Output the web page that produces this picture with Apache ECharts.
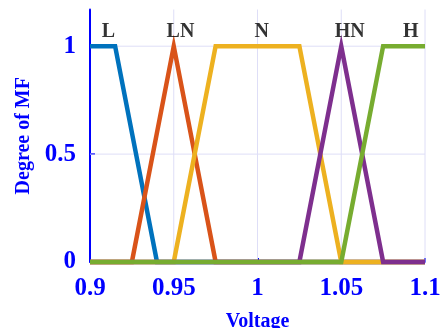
<!DOCTYPE html>
<html>
<head>
<meta charset="utf-8">
<script src="https://cdn.jsdelivr.net/npm/echarts@6/dist/echarts.min.js"></script>
<style>
  html, body { margin: 0; padding: 0; background: #fff; }
  #chart { width: 441px; height: 328px; }
</style>
</head>
<body>
<div id="chart"></div>
<script>
// Membership functions of the voltage input (breakpoints, degree of membership)
const mfNames = ['L', 'LN', 'N', 'HN', 'H'];
const mfL  = [[0.9, 1], [0.915, 1], [0.94, 0], [1.1, 0]];
const mfLN = [[0.9, 0], [0.925, 0], [0.95, 1], [0.975, 0], [1.1, 0]];
const mfN  = [[0.9, 0], [0.95, 0], [0.975, 1], [1.025, 1], [1.05, 0], [1.1, 0]];
const mfHN = [[0.9, 0], [1.025, 0], [1.05, 1], [1.075, 0], [1.1, 0]];
const mfH  = [[0.9, 0], [1.05, 0], [1.075, 1], [1.1, 1]];

// Where each name is written above its function
const nameX = [0.911, 0.954, 1.0025, 1.055, 1.0915];
const nameY = 1.066;

// Axis ticks
const xTicks = [0.9, 0.95, 1, 1.05, 1.1];
const yTicks = [0, 0.5, 1];
const xRange = [0.9, 1.1];
const yRange = [0, 1.17];

const colors = ['#0072BD', '#D95319', '#EDB120', '#7E2F8E', '#77AC30'];
const blue = '#0000FF';
const gridColor = '#DEDEF7';
const serif = '"Liberation Serif", "Times New Roman", serif';

const curves = [mfL, mfLN, mfN, mfHN, mfH];

// Light grid lines at the tick positions only, drawn beneath the curves
const series = [];
xTicks.slice(1).forEach(v => series.push({
  type: 'line', silent: true, symbol: 'none', z: 1,
  data: [[v, yRange[0]], [v, yRange[1]]],
  lineStyle: { color: gridColor, width: 1 }
}));
yTicks.slice(1).forEach(v => series.push({
  type: 'line', silent: true, symbol: 'none', z: 1,
  data: [[xRange[0], v], [xRange[1], v]],
  lineStyle: { color: gridColor, width: 1 }
}));

curves.forEach((d, i) => series.push({
  type: 'line',
  name: mfNames[i],
  data: d,
  symbol: 'none',
  clip: false,
  lineStyle: { color: colors[i], width: 4.5, join: 'miter' },
  z: 3 + i
}));

// Function names
series.push({
  type: 'scatter',
  symbolSize: 0,
  z: 10,
  data: mfNames.map((n, i) => ({ name: n, value: [nameX[i], nameY] })),
  label: {
    show: true,
    position: 'inside',
    formatter: p => p.name,
    color: '#000',
    fontFamily: serif,
    fontWeight: 'bold',
    fontSize: 20
  }
});

const chart = echarts.init(document.getElementById('chart'), null, { renderer: 'canvas' });
chart.setOption({
  animation: false,
  backgroundColor: '#fff',
  grid: { left: 90, right: 16, top: 9.5, bottom: 66, containLabel: false, outerBoundsMode: 'none' },
  xAxis: {
    type: 'value',
    min: xRange[0],
    max: xRange[1],
    interval: 0.05,
    name: 'Voltage',
    nameLocation: 'middle',
    nameGap: 50,
    nameTextStyle: { color: blue, fontFamily: serif, fontWeight: 'bold', fontSize: 20 },
    axisLine: { show: true, onZero: false, lineStyle: { color: blue, width: 1 } },
    axisTick: { show: true, inside: true, length: 4, lineStyle: { color: blue, width: 2 } },
    axisLabel: {
      color: blue, fontFamily: serif, fontWeight: 'bold', fontSize: 25, margin: 14,
      formatter: v => String(+v.toFixed(2))
    },
    splitLine: { show: false }
  },
  yAxis: {
    type: 'value',
    min: yRange[0],
    max: yRange[1],
    name: 'Degree of MF',
    nameLocation: 'middle',
    nameGap: 54,
    nameTextStyle: { color: blue, fontFamily: serif, fontWeight: 'bold', fontSize: 20 },
    axisLine: { show: true, onZero: false, lineStyle: { color: blue, width: 2 } },
    axisTick: { show: true, inside: true, length: 5, customValues: yTicks, lineStyle: { color: blue, width: 2 } },
    axisLabel: {
      color: blue, fontFamily: serif, fontWeight: 'bold', fontSize: 25, margin: 14,
      customValues: yTicks,
      verticalAlign: 'middle',
      padding: [4, 0, 0, 0]
    },
    splitLine: { show: false }
  },
  series: series
});
</script>
</body>
</html>
